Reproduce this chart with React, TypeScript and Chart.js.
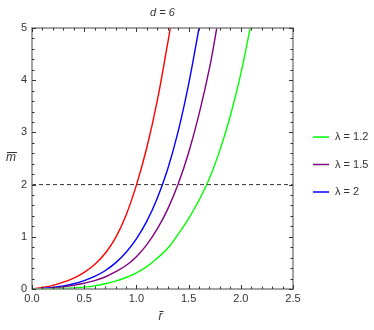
import React, { useEffect, useRef } from "react";
import { Chart, registerables } from "chart.js";

Chart.register(...registerables);

// Data
const titleText = "d = 6";
const xAxisLabel = "r";
const yAxisLabel = "m";
const xTickValues = [0, 0.5, 1.0, 1.5, 2.0, 2.5];
const yTickValues = [0, 1, 2, 3, 4, 5];
const thresholdM = 2;

const redR = [0, 0.1, 0.2, 0.3, 0.4, 0.5, 0.6, 0.7, 0.8, 0.9, 1.0, 1.1, 1.2, 1.3, 1.325];
const redM = [0, 0.03, 0.07, 0.13, 0.21, 0.32, 0.47, 0.68, 0.98, 1.41, 1.99, 2.71, 3.61, 4.71, 5.0];

const blueR = [0, 0.1, 0.2, 0.3, 0.4, 0.5, 0.6, 0.7, 0.8, 0.9, 1.0, 1.1, 1.2, 1.3, 1.4, 1.5, 1.6];
const blueM = [0, 0.01, 0.03, 0.06, 0.1, 0.16, 0.24, 0.35, 0.5, 0.7, 0.96, 1.3, 1.74, 2.3, 3.02, 3.92, 5.0];

const purpleR = [0, 0.1, 0.2, 0.3, 0.4, 0.5, 0.6, 0.7, 0.8, 0.9, 1.0, 1.1, 1.2, 1.3, 1.4, 1.5, 1.6, 1.7, 1.77];
const purpleM = [0, 0.005, 0.02, 0.04, 0.07, 0.11, 0.16, 0.23, 0.33, 0.45, 0.62, 0.85, 1.15, 1.53, 2.01, 2.61, 3.35, 4.23, 5.0];

const greenR = [0, 0.1, 0.2, 0.3, 0.4, 0.5, 0.6, 0.7, 0.8, 0.9, 1.0, 1.1, 1.2, 1.3, 1.4, 1.5, 1.6, 1.7, 1.8, 1.9, 2.0, 2.09];
const greenM = [0, 0.002, 0.006, 0.012, 0.021, 0.035, 0.06, 0.1, 0.15, 0.22, 0.31, 0.43, 0.59, 0.78, 1.05, 1.35, 1.7, 2.12, 2.66, 3.32, 4.12, 5.0];

const legendLabels = ["λ = 1.2", "λ = 1.5", "λ = 2"];
const legendColors = ["#00ff00", "#800080", "#0000ff"];
const redColor = "#ff0000";

const FONT = '"Liberation Sans", Arial, sans-serif';

function pts(rs: number[], ms: number[]) {
  return rs.map((r, i) => ({ x: r, y: ms[i] }));
}

const decorPlugin = {
  id: "decor",
  afterDraw(chart: any) {
    const { ctx, chartArea } = chart;
    const { left, right, top, bottom } = chartArea;
    const xs = chart.scales.x;
    const ys = chart.scales.y;
    ctx.save();
    // frame
    ctx.strokeStyle = "#858585";
    ctx.lineWidth = 1.5;
    ctx.strokeRect(left, top, right - left, bottom - top);
    // inward ticks on all four sides
    ctx.strokeStyle = "#333";
    ctx.lineWidth = 1;
    ctx.beginPath();
    for (let i = 0; i <= 25; i++) {
      const v = i / 10;
      const px = Math.round(xs.getPixelForValue(v)) + 0.5;
      const len = i % 5 === 0 ? 4 : 2.5;
      ctx.moveTo(px, bottom);
      ctx.lineTo(px, bottom - len);
      ctx.moveTo(px, top);
      ctx.lineTo(px, top + len);
    }
    for (let i = 0; i <= 25; i++) {
      const v = i / 5;
      const py = Math.round(ys.getPixelForValue(v)) + 0.5;
      const len = i % 5 === 0 ? 4 : 2.5;
      ctx.moveTo(left, py);
      ctx.lineTo(left + len, py);
      ctx.moveTo(right, py);
      ctx.lineTo(right - len, py);
    }
    ctx.stroke();

    // title
    ctx.fillStyle = "#333";
    ctx.font = `italic 11px ${FONT}`;
    ctx.textAlign = "center";
    ctx.textBaseline = "middle";
    ctx.fillText(titleText, (left + right) / 2, 13);

    // axis labels with overline
    ctx.font = `italic 12px ${FONT}`;
    const drawBar = (label: string, cx: number, cy: number) => {
      ctx.fillText(label, cx, cy);
      const w = ctx.measureText(label).width;
      ctx.beginPath();
      ctx.strokeStyle = "#333";
      ctx.lineWidth = 1;
      ctx.moveTo(cx - w / 2 + 1, cy - 5.5);
      ctx.lineTo(cx + w / 2 + 1, cy - 5.5);
      ctx.stroke();
    };
    drawBar(xAxisLabel, (left + right) / 2 - 2, 317);
    drawBar(yAxisLabel, 11, 158);

    // legend
    ctx.font = `11px ${FONT}`;
    ctx.textAlign = "left";
    const legY = [137, 164.5, 192];
    legendLabels.forEach((lab, i) => {
      ctx.strokeStyle = legendColors[i];
      ctx.lineWidth = 1.5;
      ctx.beginPath();
      ctx.moveTo(313, legY[i]);
      ctx.lineTo(329, legY[i]);
      ctx.stroke();
      ctx.fillStyle = "#333";
      ctx.fillText(lab, 335, legY[i]);
    });
    ctx.restore();
  },
};

export default function App() {
  const ref = useRef<HTMLCanvasElement>(null);
  useEffect(() => {
    if (!ref.current) return;
    const line = (data: any, color: string) => ({
      data,
      borderColor: color,
      backgroundColor: color,
      borderWidth: 1.4,
      pointRadius: 0,
      showLine: true,
      fill: false,
      tension: 0.4,
    });
    const chart = new Chart(ref.current, {
      type: "scatter",
      data: {
        datasets: [
          {
            data: [
              { x: 0, y: thresholdM },
              { x: 2.5, y: thresholdM },
            ],
            borderColor: "#333",
            borderWidth: 1,
            borderDash: [4, 3],
            pointRadius: 0,
            showLine: true,
          },
          line(pts(greenR, greenM), legendColors[0]),
          line(pts(purpleR, purpleM), legendColors[1]),
          line(pts(blueR, blueM), legendColors[2]),
          line(pts(redR, redM), redColor),
        ],
      },
      options: {
        animation: false,
        responsive: false,
        devicePixelRatio: 1,
        layout: { padding: { left: 0, top: 28, right: 81, bottom: 0 } },
        plugins: { legend: { display: false }, tooltip: { enabled: false }, title: { display: false } },
        scales: {
          x: {
            type: "linear",
            min: 0,
            max: 2.5,
            afterFit: (s: any) => {
              s.height = 41;
            },
            afterBuildTicks: (s: any) => {
              s.ticks = xTickValues.map((v) => ({ value: v }));
            },
            grid: { display: false, drawTicks: false },
            border: { display: false },
            ticks: {
              padding: 3,
              color: "#333",
              font: { family: FONT, size: 11 },
              callback: (v: any) => Number(v).toFixed(1),
              maxRotation: 0,
            },
          },
          y: {
            type: "linear",
            min: 0,
            max: 5,
            afterFit: (s: any) => {
              s.width = 32;
            },
            afterBuildTicks: (s: any) => {
              s.ticks = yTickValues.map((v) => ({ value: v }));
            },
            grid: { display: false, drawTicks: false },
            border: { display: false },
            ticks: {
              padding: 5,
              color: "#333",
              font: { family: FONT, size: 11 },
              callback: (v: any) => String(v),
            },
          },
        },
      },
      plugins: [decorPlugin],
    });
    return () => chart.destroy();
  }, []);
  return (
    <div style={{ position: "absolute", left: 0, top: 0, width: 374, height: 330, background: "#fff" }}>
      <canvas ref={ref} width={374} height={330} />
    </div>
  );
}
